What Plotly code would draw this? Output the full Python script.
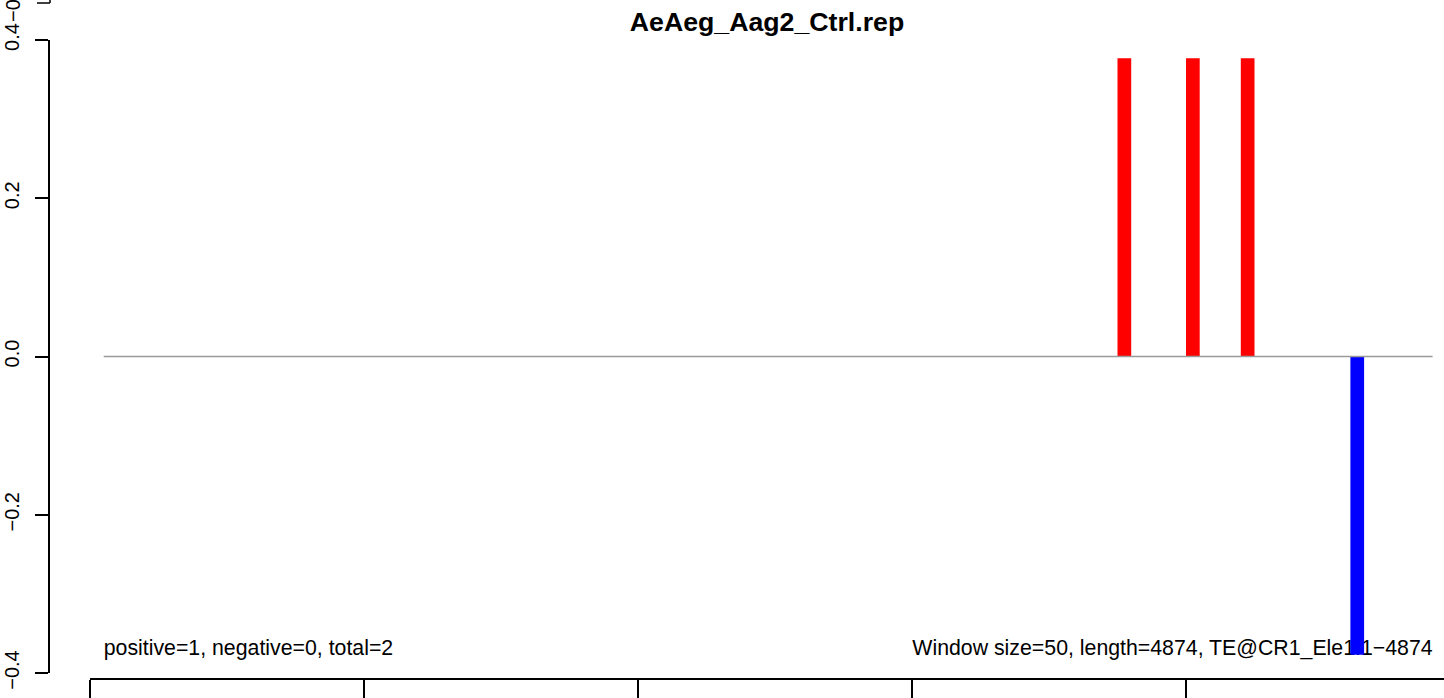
import plotly.graph_objects as go

# ---- data ----
title_text = "AeAeg_Aag2_Ctrl.rep"
seq_length = 4874
window_size = 50
pos_windows = [3775, 4025, 4225]          # window centres (bp) of positive bars
pos_values = [0.377, 0.377, 0.377]
neg_windows = [4625]                      # window centres (bp) of negative bars
neg_values = [-0.377]
baseline_x = [50, 4900]
baseline_y = [0, 0]
y_ticks = [-0.4, -0.2, 0.0, 0.2, 0.4]
y_tick_labels = ["\u22120.4", "\u22120.2", "0.0", "0.2", "0.4"]
x_ticks = [0, 1000, 2000, 3000, 4000]
left_note = "positive=1, negative=0, total=2"
right_note = "Window size=50, length=4874, TE@CR1_Ele1:1\u22124874"
note_y = -0.37

FONT = "Liberation Sans, Arial, Helvetica, sans-serif"
W, H = 1444, 698
ML, MR, MT, MB = 50, 0, 40, 19
plot_w = W - ML - MR
plot_h = H - MT - MB
px_per_unit = 274 / 1000.0
x0_px = 90  # pixel of x = 0
x_right = (W - x0_px) / px_per_unit
x_left = (ML - x0_px) / px_per_unit
y_dom0 = 6 / plot_h

fig = go.Figure()

# annotation texts (drawn beneath the bars)
fig.add_trace(go.Scatter(
    x=[baseline_x[0]], y=[note_y], mode="text", text=[left_note],
    textposition="middle right", textfont=dict(family=FONT, size=21.3, color="black"),
    xaxis="x", yaxis="y", showlegend=False, hoverinfo="skip", cliponaxis=False))
fig.add_trace(go.Scatter(
    x=[baseline_x[1]], y=[note_y], mode="text", text=[right_note],
    textposition="middle left", textfont=dict(family=FONT, size=21.3, color="black"),
    xaxis="x", yaxis="y", showlegend=False, hoverinfo="skip", cliponaxis=False))

# baseline
fig.add_trace(go.Scatter(
    x=baseline_x, y=baseline_y, mode="lines", line=dict(color="#9a9a9a", width=1.4),
    xaxis="x2", yaxis="y", showlegend=False, hoverinfo="skip"))

# bars
fig.add_trace(go.Bar(
    x=pos_windows, y=pos_values, width=[window_size] * len(pos_windows),
    marker=dict(color="#ff0000", line=dict(width=0)),
    xaxis="x2", yaxis="y", showlegend=False))
fig.add_trace(go.Bar(
    x=neg_windows, y=neg_values, width=[window_size] * len(neg_windows),
    marker=dict(color="#0000ff", line=dict(width=0)),
    xaxis="x2", yaxis="y", showlegend=False))

fig.update_layout(
    width=W, height=H,
    margin=dict(l=ML, r=MR, t=MT, b=MB, pad=0),
    paper_bgcolor="white", plot_bgcolor="rgba(0,0,0,0)",
    font=dict(family=FONT, color="black"),
    barmode="overlay",
    title=dict(text="<b>" + title_text + "</b>", x=767 / W, xanchor="center",
               y=1 - 22 / H, yanchor="middle", yref="container",
               font=dict(family=FONT, size=26.7, color="black")),
    xaxis=dict(domain=[0, 1], range=[x_left, x_right], visible=False, fixedrange=True),
    xaxis2=dict(domain=[(x0_px - ML) / plot_w, 1], range=[0, x_right],
                anchor="free", position=0,
                showline=True, linecolor="black", linewidth=1.5,
                ticks="outside", ticklen=20, tickwidth=1.5, tickcolor="black",
                tickvals=x_ticks, showticklabels=False,
                showgrid=False, zeroline=False),
    yaxis=dict(domain=[y_dom0, 1], range=[-0.4, 0.4], anchor="x",
               showline=True, linecolor="black", linewidth=1.5,
               ticks="outside", ticklen=13, tickwidth=1.5, tickcolor="black",
               tickvals=y_ticks, ticktext=y_tick_labels, tickangle=-90,
               ticklabelstandoff=8,
               tickfont=dict(family=FONT, size=20, color="black"),
               showgrid=False, zeroline=False),
    shapes=[
        dict(type="line", xref="paper", yref="paper", x0=0, x1=0,
             y0=1 + (MT - 3) / plot_h, y1=1 + MT / plot_h + 0.01,
             line=dict(color="black", width=1.5)),
        dict(type="line", xref="paper", yref="paper", x0=-13 / plot_w, x1=0,
             y0=1 + (MT - 3) / plot_h, y1=1 + (MT - 3) / plot_h,
             line=dict(color="black", width=1.5)),
    ],
    annotations=[
        dict(text="\u22120.4", xref="paper", yref="paper",
             x=(13 - ML) / plot_w, y=1 + (MT - 3) / plot_h,
             xanchor="center", yanchor="middle", textangle=-90, showarrow=False,
             font=dict(family=FONT, size=20, color="black")),
    ],
)

fig.write_html("out.html",
               config={"displayModeBar": False},
               post_script="document.body.style.margin='0';document.body.style.padding='0';")
